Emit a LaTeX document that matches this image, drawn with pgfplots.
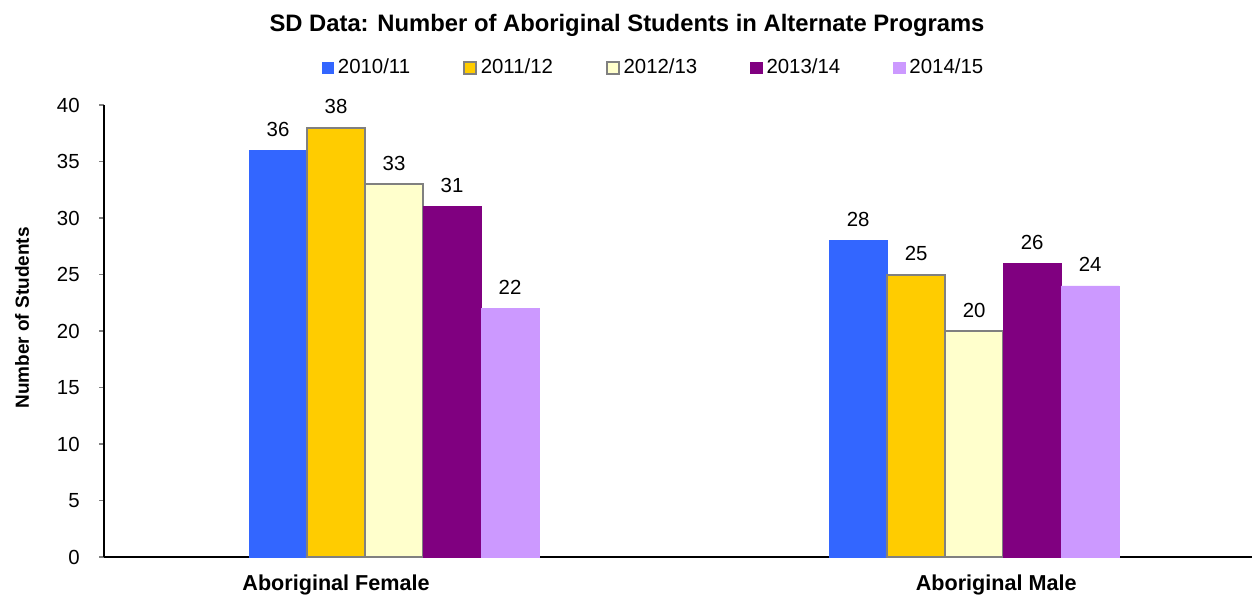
\documentclass[border=0pt]{standalone}
\usepackage{fontspec}
\setmainfont{Liberation Sans}
\usepackage{pgfplots}
\pgfplotsset{compat=1.18}

\definecolor{yrA}{HTML}{3366FF}
\definecolor{yrB}{HTML}{FFCC00}
\definecolor{yrC}{HTML}{FFFFCC}
\definecolor{yrD}{HTML}{800080}
\definecolor{yrE}{HTML}{CC99FF}
\definecolor{edge}{HTML}{808080}

\pgfplotsset{
  sqlegend/.style={legend image code/.code={
      \draw[##1] (0pt,-2.9pt) rectangle (5.8pt,2.9pt);}},
}

\begin{document}
\begin{tikzpicture}[x=1pt,y=1pt]
\useasboundingbox (-52,-19.5) rectangle (574,278.5);

\node[font=\bfseries\fontsize{11.9}{14}\selectfont] at (261.5,266)
  {SD Data: Number of Aboriginal Students in Alternate Programs};

\begin{axis}[
    at={(0,0)}, anchor=south west,
    scale only axis,
    width=574pt, height=226pt,
    ybar=0pt, bar width=0.1,
    xmin=-0.5, xmax=1.479,
    ymin=0, ymax=40,
    axis x line*=bottom, axis y line*=left,
    axis line style={black, line width=0.6pt},
    /pgf/number format/assume math mode=true,
    ytick={0,5,...,40},
    ytick style={edge, line width=0.8pt},
    tick align=outside,
    major tick length=2.5pt,
    yticklabel style={font=\fontsize{10.2}{12}\selectfont, anchor=east, inner sep=0pt, xshift=-9.5pt},
    xtick={-0.1,1.038},
    xticklabels={Aboriginal Female, Aboriginal Male},
    xtick style={draw=none},
    xticklabel style={font=\bfseries\fontsize{10.8}{12}\selectfont, anchor=base, inner sep=0pt, yshift=-14pt},
    ylabel={Number of Students},
    ylabel style={font=\bfseries\fontsize{9.5}{12}\selectfont, at={(axis description cs:-0.0714,0.529)}, anchor=center},
    nodes near coords,
    every node near coord/.append style={font=\fontsize{10.2}{12}\selectfont, anchor=center, yshift=10.5pt, black},
    legend columns=5,
    legend style={at={(axis description cs:0.4795,1.082)}, anchor=center, draw=none,
        font=\fontsize{10.2}{12}\selectfont,
        /tikz/every even column/.append style={column sep=24.5pt},
        /tikz/every odd column/.append style={column sep=0pt}},
]
\addplot[sqlegend, fill=yrA, draw=yrA, line width=0.3pt] coordinates {(0,36) (1,28)};
\addlegendentry{2010/11}
\addplot[sqlegend, fill=yrB, draw=edge, line width=1pt] coordinates {(0,38) (1,25)};
\addlegendentry{2011/12}
\addplot[sqlegend, fill=yrC, draw=edge, line width=1pt] coordinates {(0,33) (1,20)};
\addlegendentry{2012/13}
\addplot[sqlegend, fill=yrD, draw=yrD, line width=0.3pt] coordinates {(0,31) (1,26)};
\addlegendentry{2013/14}
\addplot[sqlegend, fill=yrE, draw=yrE, line width=0.3pt] coordinates {(0,22) (1,24)};
\addlegendentry{2014/15}
\end{axis}
\end{tikzpicture}
\end{document}
